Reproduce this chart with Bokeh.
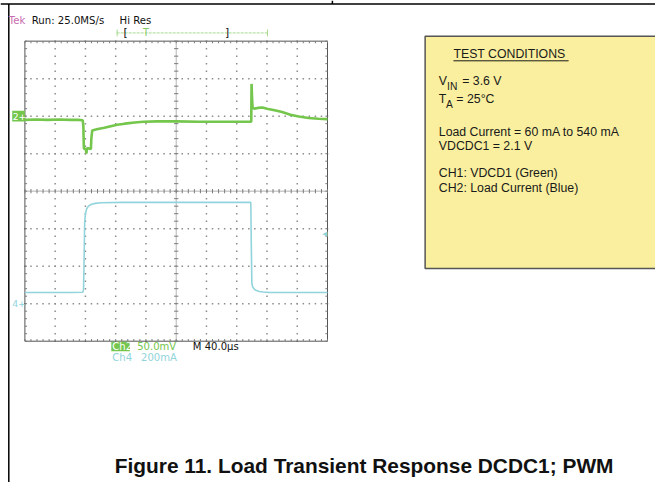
import numpy as np
from bokeh.plotting import figure
from bokeh.models import Range1d
from bokeh.core.properties import value
from bokeh.embed import file_html
from bokeh.resources import INLINE

# ---------------- data ----------------
# Ch2: output voltage deviation (mV, 50 mV/div) vs time (us, 40 us/div)
t_ch2 = [0, 15, 30, 45, 60, 70, 76.5, 77.3, 77.6, 78.0, 79.5, 80.6, 81.3, 82.0, 84.5,
         86.5, 87.3, 87.8, 89, 95, 105, 115, 122, 132, 145, 157, 175, 200, 230, 260,
         285, 298.5, 299.2, 299.6, 300.2, 301, 303, 308, 314, 320, 330, 340, 351, 362,
         375, 388, 400]
v_ch2 = [-5, -4.5, -5, -4.5, -5, -5, -5.5, -14, -30, -43, -44, -43, -50, -43, -43,
         -44, -43, -30, -19, -17.5, -15.5, -13, -11.5, -10, -8.5, -7.5, -7, -7, -7.5, -7.5,
         -7.5, -7.5, -7, 43, 25, 11, 10, 11, 11.5, 10, 8, 5.5, 2, -0.5,
         -2.5, -3.5, -4]
# Ch4: load current (mA, 200 mA/div)
t_ch4 = [0, 20, 40, 60, 76.5, 77.5, 78.3, 79, 80, 81.5, 84, 88, 93, 100, 130, 170, 210,
         250, 280, 298.6, 299.3, 300, 301, 303, 306, 310, 315, 322, 330, 360, 400]
i_ch4 = [60, 60, 60, 60, 61, 75, 250, 430, 480, 505, 520, 530, 535, 538, 540, 540, 540,
         540, 540, 540, 300, 110, 90, 78, 70, 65, 62, 60.5, 60, 60, 60]

CH2_SCALE = 50.0     # mV/div
CH4_SCALE = 200.0    # mA/div
TIME_SCALE = 40.0    # us/div
CH2_POS = 2.0        # div (marker "2+")
CH4_POS = -3.0       # div (marker "4+")
TRIG_LEVEL = 370.0   # mA (trigger arrow on right)

header_texts = ["Run: 25.0MS/s", "Hi Res"]
readout_ch2 = ["Ch2", "50.0mV", "M 40.0\u00b5s"]
readout_ch4 = ["Ch4", "200mA"]
cond_title = "TEST CONDITIONS"
cond_lines = ["Load Current = 60 mA to 540 mA", "VDCDC1 = 2.1 V",
              "CH1: VDCD1 (Green)", "CH2: Load Current (Blue)"]
caption = "Figure 11. Load Transient Response DCDC1; PWM"

# ---------------- layout (reference-image pixel coordinates) ----------------
W, H = 655, 482            # canvas size
RW, RH = 671, 498          # reference picture size (mapped onto the canvas)
K = W / RW                 # font scale
GX0, GX1, GY0, GY1 = 25, 335, 42, 352  # graticule box
NDX, NDY = 10, 8
px_us = (GX1 - GX0) / (NDX * TIME_SCALE)
px_div = (GY1 - GY0) / NDY
cy = (GY0 + GY1) / 2


def fs(px):
    return "%.2fpx" % (px * K)


def mid(baseline, size):
    return baseline - 0.36 * size


p = figure(width=W, height=H, x_range=Range1d(0, RW), y_range=Range1d(RH, 0),
           output_backend="svg", toolbar_location=None, min_border=0,
           x_axis_type=None, y_axis_type=None, outline_line_color=None, title=None)
p.background_fill_color = "white"
p.border_fill_color = "white"

t0 = (0 - GX0) / px_us
t1 = (RW - GX0) / px_us
d_top = (cy - 0) / px_div
d_bot = (cy - RH) / px_div
p.extra_x_ranges = {"t": Range1d(t0, t1)}
p.extra_y_ranges = {
    "div": Range1d(d_bot, d_top),
    "ch2": Range1d((d_bot - CH2_POS) * CH2_SCALE, (d_top - CH2_POS) * CH2_SCALE),
    "ch4": Range1d((d_bot - CH4_POS) * CH4_SCALE, (d_top - CH4_POS) * CH4_SCALE),
}
TS = dict(x_range_name="t", y_range_name="div")

# page frame lines
p.segment(x0=[0, 8.5, 340], y0=[3.5, 3.5, 0], x1=[RW, 8.5, 340], y1=[3.5, RH, 3.5],
          line_color="black", line_width=1.5)

# ---------------- graticule ----------------
TMAX = NDX * TIME_SCALE
minor_t = np.arange(0, TMAX + 0.01, TIME_SCALE / 5)
minor_d = np.arange(-NDY / 2, NDY / 2 + 0.01, 0.2)
major_t = np.arange(TIME_SCALE, TMAX - 0.01, TIME_SCALE)
major_d = np.arange(-NDY / 2 + 1, NDY / 2 - 0.01, 1.0)
dx, dy = [], []
for tt in major_t:
    if abs(tt - TMAX / 2) < 1e-6:
        continue
    dx += list(np.full(len(minor_d), tt)); dy += list(minor_d)
for dd in major_d:
    if abs(dd) < 1e-6:
        continue
    dx += list(minor_t); dy += list(np.full(len(minor_t), dd))
p.scatter(dx, dy, marker="square", size=1.5, fill_color="#8c8c8c", line_color=None, **TS)

tick_t = 2.2 / px_us
tick_d = 2.2 / px_div
gc = "#555555"
tc = "#7a7a7a"
# centre lines
p.segment(x0=[0, TMAX / 2], y0=[0, -NDY / 2], x1=[TMAX, TMAX / 2], y1=[0, NDY / 2],
          line_color="#b4b4b4", line_width=1, **TS)
# border
p.quad(left=[0], right=[TMAX], bottom=[-NDY / 2], top=[NDY / 2], fill_color=None,
       line_color=gc, line_width=1, **TS)
# border ticks (inward)
p.segment(x0=minor_t, y0=np.full(len(minor_t), NDY / 2), x1=minor_t,
          y1=np.full(len(minor_t), NDY / 2 - tick_d), line_color=tc, **TS)
p.segment(x0=minor_t, y0=np.full(len(minor_t), -NDY / 2), x1=minor_t,
          y1=np.full(len(minor_t), -NDY / 2 + tick_d), line_color=tc, **TS)
p.segment(x0=np.zeros(len(minor_d)), y0=minor_d, x1=np.full(len(minor_d), tick_t),
          y1=minor_d, line_color=tc, **TS)
p.segment(x0=np.full(len(minor_d), TMAX), y0=minor_d, x1=np.full(len(minor_d), TMAX - tick_t),
          y1=minor_d, line_color=tc, **TS)
# centre cross ticks
p.segment(x0=minor_t, y0=np.full(len(minor_t), -tick_d), x1=minor_t,
          y1=np.full(len(minor_t), tick_d), line_color=tc, **TS)
p.segment(x0=np.full(len(minor_d), TMAX / 2 - tick_t), y0=minor_d,
          x1=np.full(len(minor_d), TMAX / 2 + tick_t), y1=minor_d, line_color=tc, **TS)

# ---------------- traces ----------------
GREEN = "#74c64c"
BLUE = "#92d4dc"
p.line(t_ch4, i_ch4, line_color=BLUE, line_width=1.6, x_range_name="t", y_range_name="ch4")
p.line(t_ch2, v_ch2, line_color=GREEN, line_width=2.6, x_range_name="t", y_range_name="ch2")

# channel markers
p.quad(left=[12], right=[25], bottom=[CH2_POS - 5.5 / px_div], top=[CH2_POS + 5.5 / px_div],
       fill_color=GREEN, line_color=None, y_range_name="div")
SF = value("DejaVu Sans")
p.text(x=[12.5], y=[CH2_POS], text=["2+"], text_font=SF, text_font_size=fs(9.5),
       text_color="white", text_baseline="middle", y_range_name="div")
p.text(x=[12], y=[CH4_POS], text=["4+"], text_font=SF, text_font_size=fs(9.5),
       text_color=BLUE, text_baseline="middle", y_range_name="div")
p.text(x=[TMAX - 7], y=[TRIG_LEVEL], text=["\u25c0"], text_font=SF, text_font_size=fs(7),
       text_color=BLUE, text_baseline="middle", x_range_name="t", y_range_name="ch4")

# ---------------- scope header / readouts ----------------
p.text(x=[8.5], y=[mid(24, 10)], text=["Tek"], text_font=SF, text_font_size=fs(10.4),
       text_color="#c86cb0", text_baseline="middle")
p.text(x=[32, 122], y=[mid(24, 10)] * 2, text=header_texts, text_font=SF,
       text_font_size=fs(10.4), text_color="#111111", text_baseline="middle")
# trigger position bar
p.segment(x0=[119], y0=[33.5], x1=[274], y1=[33.5], line_color="#a6da8e",
          line_width=1, line_dash="3 1")
p.segment(x0=[119.5, 273.5], y0=[30, 30], x1=[119.5, 273.5], y1=[37, 37],
          line_color="#a6da8e", line_width=1)
p.text(x=[126, 230], y=[33.5, 33.5], text=["[", "]"], text_font=SF, text_font_size=fs(11),
       text_color="#111111", text_baseline="middle")
p.text(x=[146], y=[33], text=["T"], text_font=SF, text_font_size=fs(10),
       text_color="#86cc66", text_baseline="middle")

p.quad(left=[113.5], right=[132.5], top=[352.5], bottom=[362.5], fill_color=GREEN,
       line_color=None)
p.text(x=[114.5, 140, 197], y=[357.5, 357.5, 357.5], text=readout_ch2, text_font=SF,
       text_font_size=fs(10.3), text_color=["white", GREEN, "#111111"], text_baseline="middle")
p.text(x=[114.5, 144], y=[369, 369], text=readout_ch4, text_font=SF, text_font_size=fs(10.3),
       text_color=BLUE, text_baseline="middle")

# ---------------- test-condition box ----------------
AF = value("Liberation Sans")
TC = "#1a1a1a"
BF = 12.6
p.quad(left=[435], right=[RW + 20], top=[37], bottom=[277], fill_color="#f9ef9e",
       line_color="#555555", line_width=1.5)
p.text(x=[464], y=[mid(60, BF)], text=[cond_title], text_font=AF, text_font_size=fs(BF),
       text_color=TC, text_baseline="middle")
p.segment(x0=[464], y0=[62.3], x1=[582], y1=[62.3], line_color=TC, line_width=1)
p.text(x=[449, 473], y=[mid(87.3, BF)] * 2, text=["V", "= 3.6 V"], text_font=AF,
       text_font_size=fs(BF), text_color=TC, text_baseline="middle")
p.text(x=[457.5], y=[mid(92.5, 10.5)], text=["IN"], text_font=AF, text_font_size=fs(10.5),
       text_color=TC, text_baseline="middle")
p.text(x=[449, 467], y=[mid(106, BF)] * 2, text=["T", "= 25\u00b0C"], text_font=AF,
       text_font_size=fs(BF), text_color=TC, text_baseline="middle")
p.text(x=[456.5], y=[mid(111.7, 10.5)], text=["A"], text_font=AF, text_font_size=fs(10.5),
       text_color=TC, text_baseline="middle")
p.text(x=[449] * 4, y=[mid(b, BF) for b in [140.7, 155, 182.7, 198.3]], text=cond_lines,
       text_font=AF, text_font_size=fs(BF), text_color=TC, text_baseline="middle")

# ---------------- caption ----------------
p.text(x=[117], y=[mid(488.3, 21.4)], text=[caption], text_font=AF, text_font_size=fs(21.4),
       text_font_style="bold", text_color="#111111", text_baseline="middle")

open("out.html", "w").write(file_html(p, INLINE))
